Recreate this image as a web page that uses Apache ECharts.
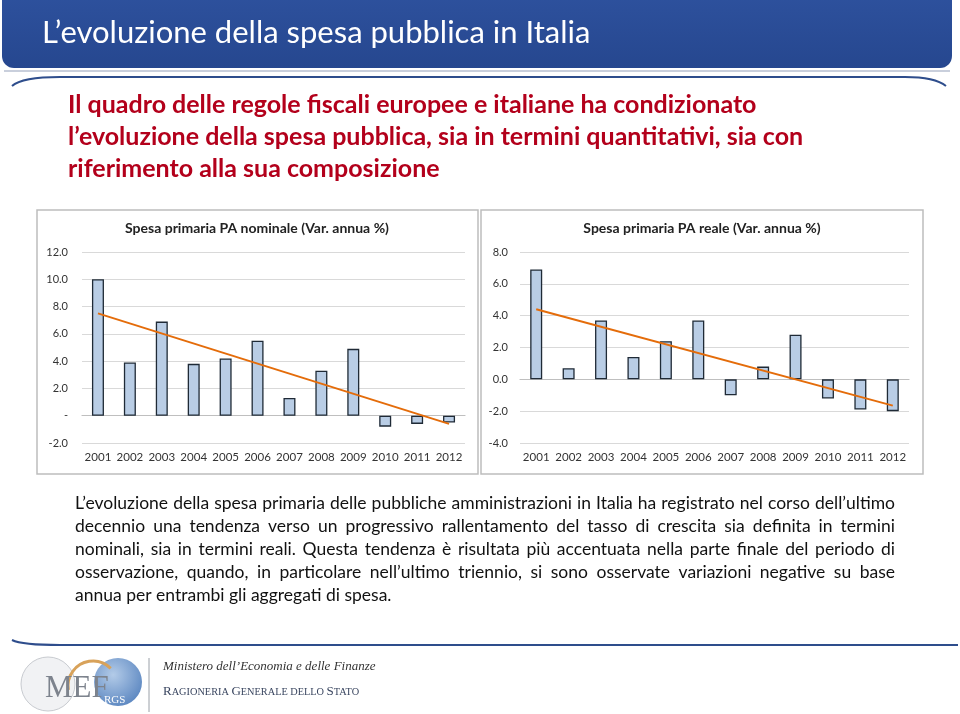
<!DOCTYPE html>
<html>
<head>
<meta charset="utf-8">
<script src="https://cdn.jsdelivr.net/npm/echarts@6/dist/echarts.min.js"></script>
<style>
html,body{margin:0;padding:0;background:#fff;}
#c{width:960px;height:714px;}
</style>
</head>
<body>
<div id="c"></div>
<script>
// ---- data ----
const years = ['2001','2002','2003','2004','2005','2006','2007','2008','2009','2010','2011','2012'];
const nominal = [10.0, 3.9, 6.9, 3.8, 4.2, 5.5, 1.3, 3.3, 4.9, -0.8, -0.6, -0.5];
const real    = [6.9, 0.7, 3.7, 1.4, 2.4, 3.7, -1.0, 0.8, 2.8, -1.2, -1.9, -2.0];
const trendNominal = [7.5, null, null, null, null, null, null, null, null, null, null, -0.6];
const trendReal    = [4.4, null, null, null, null, null, null, null, null, null, null, -1.65];
const nominalTicks = ['-2.0','-','2.0','4.0','6.0','8.0','10.0','12.0'];
const realTicks    = ['-4.0','-2.0','0.0','2.0','4.0','6.0','8.0'];
const titleNominal = 'Spesa primaria PA nominale (Var. annua %)';
const titleReal    = 'Spesa primaria PA reale (Var. annua %)';
const slideTitle = 'L’evoluzione della spesa pubblica in Italia';
const redLines = [
  'Il quadro delle regole fiscali europee e italiane ha condizionato',
  'l’evoluzione della spesa pubblica, sia in termini quantitativi, sia con',
  'riferimento alla sua composizione'
];
const paraLines = [
  'L’evoluzione della spesa primaria delle pubbliche amministrazioni in Italia ha registrato nel corso dell’ultimo',
  'decennio una tendenza verso un progressivo rallentamento del tasso di crescita sia definita in termini',
  'nominali, sia in termini reali. Questa tendenza è risultata più accentuata nella parte finale del periodo di',
  'osservazione, quando, in particolare nell’ultimo triennio, si sono osservate variazioni negative su base',
  'annua per entrambi gli aggregati di spesa.'
];

// ---- helpers ----
const FONT = 'Lato, "Open Sans", sans-serif';
const mctx = document.createElement('canvas').getContext('2d');
function measure(t, font){ mctx.font = font; return mctx.measureText(t).width; }

const graphics = [];
// header band
graphics.push({type:'rect', shape:{x:2,y:-20,width:950,height:88,r:[0,0,12,12]},
  style:{fill:new echarts.graphic.LinearGradient(0,0,0,1,[{offset:0,color:'#2F53A0'},{offset:1,color:'#26478F'}])}, z:1});
graphics.push({type:'text', x:42, y:33, style:{text:slideTitle, fill:'#fff', font:'31px '+FONT, verticalAlign:'middle'}, z:2});
graphics.push({type:'line', shape:{x1:4,y1:71,x2:950,y2:71}, style:{stroke:'#c9cfdc', lineWidth:2}, z:1});
graphics.push({type:'bezierCurve', shape:{x1:12,y1:86,x2:60,y2:77,cpx1:22,cpy1:77}, style:{stroke:'#2E4D8C', lineWidth:2, fill:null}, z:1});
graphics.push({type:'line', shape:{x1:60,y1:77,x2:905,y2:77}, style:{stroke:'#2E4D8C', lineWidth:2}, z:1});
graphics.push({type:'bezierCurve', shape:{x1:905,y1:77,x2:946,y2:86,cpx1:935,cpy1:77}, style:{stroke:'#2E4D8C', lineWidth:2, fill:null}, z:1});
// red text
redLines.forEach((t,i)=>{
  graphics.push({type:'text', x:68, y:105+i*32, style:{text:t, fill:'#B3001B', font:'bold 25px '+FONT, verticalAlign:'middle'}, z:2});
});
// chart panels
graphics.push({type:'rect', shape:{x:37,y:210,width:441,height:264}, style:{fill:'#fff', stroke:'#bdbdbd', lineWidth:1.5}, z:0});
graphics.push({type:'rect', shape:{x:481,y:210,width:442,height:264}, style:{fill:'#fff', stroke:'#bdbdbd', lineWidth:1.5}, z:0});
graphics.push({type:'text', x:257, y:228, style:{text:titleNominal, fill:'#222', font:'bold 14px '+FONT, align:'center', verticalAlign:'middle'}, z:2});
graphics.push({type:'text', x:702, y:228, style:{text:titleReal, fill:'#222', font:'bold 14px '+FONT, align:'center', verticalAlign:'middle'}, z:2});
// justified paragraph
const pFont = '17.5px ' + FONT;
const pLeft = 75, pRight = 895;
paraLines.forEach((line,i)=>{
  const y = 503 + i*23;
  if (i === paraLines.length-1) {
    graphics.push({type:'text', x:pLeft, y:y, style:{text:line, fill:'#111', font:pFont, verticalAlign:'middle'}, z:2});
    return;
  }
  const words = line.split(' ');
  const widths = words.map(w=>measure(w,pFont));
  const total = widths.reduce((a,b)=>a+b,0);
  const gap = (pRight-pLeft-total)/(words.length-1);
  let x = pLeft;
  words.forEach((w,k)=>{
    graphics.push({type:'text', x:x, y:y, style:{text:w, fill:'#111', font:pFont, verticalAlign:'middle'}, z:2});
    x += widths[k] + gap;
  });
});
// footer
graphics.push({type:'bezierCurve', shape:{x1:12,y1:640,x2:60,y2:645,cpx1:22,cpy1:645}, style:{stroke:'#2E4D8C', lineWidth:2, fill:null}, z:1});
graphics.push({type:'line', shape:{x1:60,y1:645,x2:958,y2:645}, style:{stroke:'#2E4D8C', lineWidth:2}, z:1});
graphics.push({type:'circle', shape:{cx:48,cy:684,r:27}, style:{fill:'#f1f2f4', stroke:'#c8cbd0', lineWidth:1}, z:1});
graphics.push({type:'circle', shape:{cx:118,cy:682,r:24}, style:{fill:new echarts.graphic.RadialGradient(0.4,0.35,0.8,[{offset:0,color:'#b3cbe8'},{offset:1,color:'#4f7dbb'}])}, z:1});
graphics.push({type:'arc', shape:{cx:93,cy:686,r:25,startAngle:Math.PI*0.95,endAngle:Math.PI*1.75}, style:{stroke:'#d8a25a', lineWidth:3, fill:null}, z:2});
graphics.push({type:'text', x:45, y:689, style:{text:'MEF', fill:'#7d838d', font:'31px "Liberation Serif", serif', verticalAlign:'middle'}, z:3});
graphics.push({type:'text', x:104, y:700, style:{text:'RGS', fill:'#fff', font:'11px "Liberation Serif", serif', verticalAlign:'middle'}, z:3});
graphics.push({type:'line', shape:{x1:149,y1:658,x2:149,y2:712}, style:{stroke:'#9aa0a8', lineWidth:1}, z:1});
graphics.push({type:'text', x:163, y:667, style:{text:'Ministero dell’Economia e delle Finanze', fill:'#333', font:'italic 13px "Liberation Serif", serif', verticalAlign:'middle'}, z:2});
graphics.push({type:'text', x:163, y:692, style:{text:'{b|R}{s|AGIONERIA }{b|G}{s|ENERALE DELLO }{b|S}{s|TATO}', verticalAlign:'middle',
  rich:{b:{fill:'#3a4660', font:'13px "Liberation Serif", serif'}, s:{fill:'#3a4660', font:'10.3px "Liberation Serif", serif'}}}, z:2});

function yAxisCommon(min,max,ticks,margin){
  return {type:'value', min:min, max:max, interval:2,
    axisLine:{show:false}, axisTick:{show:false},
    splitLine:{lineStyle:{color:'#d9d9d9', width:1}},
    axisLabel:{color:'#333', fontSize:11, fontFamily:FONT, margin:margin,
      formatter:(v)=>ticks[Math.round((v-min)/2)]}};
}
function xAxisCommon(grid){
  return {type:'category', data:years, gridIndex:grid,
    axisLine:{onZero:true, lineStyle:{color:'#bfbfbf', width:1.2}}, axisTick:{show:false},
    axisLabel:{color:'#333', fontSize:11.5, fontFamily:FONT, interval:0}};
}

const chart = echarts.init(document.getElementById('c'), null, {renderer:'canvas'});
chart.setOption({
  animation:false,
  backgroundColor:'#fff',
  graphic:graphics,
  grid:[
    {left:82, top:252, width:383, height:191},
    {left:520, top:252, width:389, height:191}
  ],
  xAxis:[ xAxisCommon(0), xAxisCommon(1) ],
  yAxis:[
    Object.assign(yAxisCommon(-2,12,nominalTicks,14),{gridIndex:0}),
    Object.assign(yAxisCommon(-4,8,realTicks,12),{gridIndex:1})
  ],
  series:[
    {type:'bar', xAxisIndex:0, yAxisIndex:0, data:nominal, barWidth:12,
      itemStyle:{color:'#B9CDE5', borderColor:'#1f2a36', borderWidth:1.3}, z:3},
    {type:'line', xAxisIndex:0, yAxisIndex:0, data:trendNominal, connectNulls:true, symbol:'none',
      lineStyle:{color:'#E46C0A', width:2}, z:4},
    {type:'bar', xAxisIndex:1, yAxisIndex:1, data:real, barWidth:12,
      itemStyle:{color:'#B9CDE5', borderColor:'#1f2a36', borderWidth:1.3}, z:3},
    {type:'line', xAxisIndex:1, yAxisIndex:1, data:trendReal, connectNulls:true, symbol:'none',
      lineStyle:{color:'#E46C0A', width:2}, z:4}
  ]
});
</script>
</body>
</html>
